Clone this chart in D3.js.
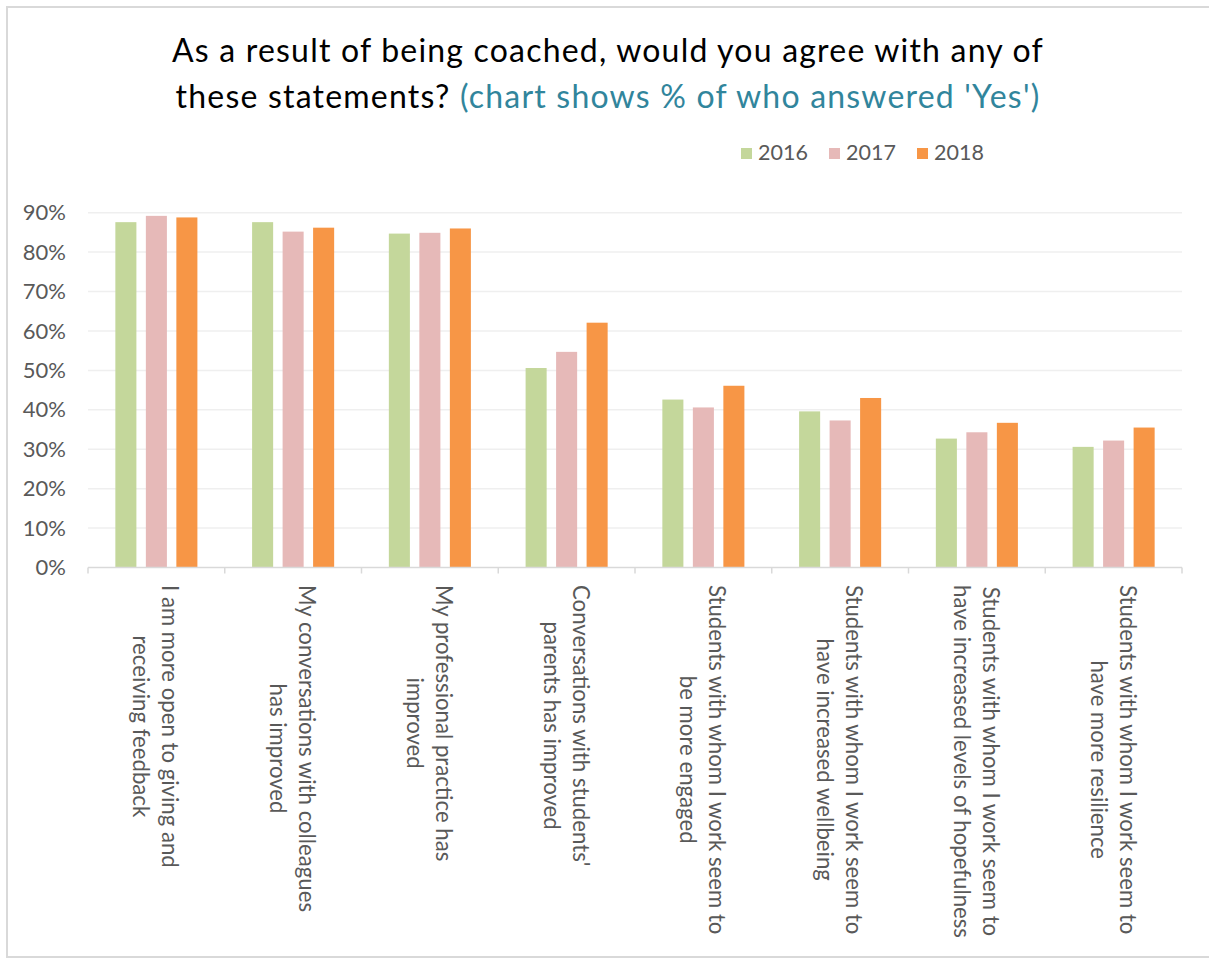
<!DOCTYPE html>
<html>
<head>
<meta charset="utf-8">
<script src="https://cdn.jsdelivr.net/npm/d3@7"></script>
<style>
  html, body { margin: 0; padding: 0; background: #ffffff; }
  svg { display: block; }
  text { font-family: Lato, "Open Sans", sans-serif; }
</style>
</head>
<body>
<svg id="chart" width="1209" height="961"></svg>
<script>
// Survey statements (line breaks mark where each label wraps)
const categories = [
  "I am more open to giving and\nreceiving feedback",
  "My conversations with colleagues\nhas improved",
  "My professional practice has\nimproved",
  "Conversations with students'\nparents has improved",
  "Students with whom I work seem to\nbe more engaged",
  "Students with whom I work seem to\nhave increased wellbeing",
  "Students with whom I work seem to\nhave increased levels of hopefulness",
  "Students with whom I work seem to\nhave more resilience"
];
const seriesNames = ["2016", "2017", "2018"];
const values2016 = [87.6, 87.6, 84.7, 50.6, 42.6, 39.6, 32.7, 30.6];
const values2017 = [89.2, 85.2, 84.9, 54.7, 40.6, 37.3, 34.3, 32.2];
const values2018 = [88.8, 86.2, 86.0, 62.1, 46.1, 43.0, 36.7, 35.5];
const yTicks = [0, 10, 20, 30, 40, 50, 60, 70, 80, 90];
const colors = ["#c4d79b", "#e6b9b8", "#f79646"];

const seriesValues = [values2016, values2017, values2018];
const rows = categories.map((c, i) => ({
  label: c,
  vals: seriesNames.map((s, j) => ({ series: s, value: seriesValues[j][i] }))
}));

const svg = d3.select("#chart");

// Chart frame
svg.append("rect")
  .attr("x", 7).attr("y", 7)
  .attr("width", 1220).attr("height", 950)
  .attr("fill", "#ffffff")
  .attr("stroke", "#d9d9d9").attr("stroke-width", 2);

const plot = { left: 88, right: 1182, top: 212.7, bottom: 567.5 };

const x0 = d3.scaleBand()
  .domain(categories)
  .range([plot.left, plot.right])
  .paddingInner(0.4)
  .paddingOuter(0.2);

const x1 = d3.scaleBand()
  .domain(seriesNames)
  .range([0, x0.bandwidth()])
  .paddingInner(0.31);

const y = d3.scaleLinear()
  .domain([0, 90])
  .range([plot.bottom, plot.top]);

// Horizontal gridlines
svg.append("g")
  .selectAll("line")
  .data(yTicks.filter(t => t > 0))
  .join("line")
  .attr("x1", plot.left).attr("x2", plot.right)
  .attr("y1", d => y(d)).attr("y2", d => y(d))
  .attr("stroke", "#efefef").attr("stroke-width", 1.5);

// Y axis labels
const yAxis = svg.append("g")
  .attr("transform", `translate(${plot.left},0)`)
  .call(d3.axisLeft(y).tickValues(yTicks).tickFormat(d => d + "%").tickSize(0).tickPadding(22));
yAxis.select(".domain").remove();
yAxis.selectAll("text")
  .attr("fill", "#595959")
  .style("font-size", "22px")
  .style("font-family", "Lato, sans-serif");

// Bars
const groups = svg.append("g")
  .selectAll("g")
  .data(rows)
  .join("g")
  .attr("transform", d => `translate(${x0(d.label)},0)`);

groups.selectAll("rect")
  .data(d => d.vals)
  .join("rect")
  .attr("x", d => x1(d.series))
  .attr("width", x1.bandwidth())
  .attr("y", d => y(d.value))
  .attr("height", d => y(0) - y(d.value))
  .attr("fill", (d, i) => colors[i]);

// Category axis: baseline and boundary ticks
const step = x0.step();
const xAxisG = svg.append("g");
xAxisG.append("line")
  .attr("x1", plot.left).attr("x2", plot.right)
  .attr("y1", y(0)).attr("y2", y(0))
  .attr("stroke", "#d9d9d9").attr("stroke-width", 1.5);
xAxisG.selectAll("line.tick")
  .data(d3.range(categories.length + 1))
  .join("line")
  .attr("class", "tick")
  .attr("x1", i => plot.left + i * step).attr("x2", i => plot.left + i * step)
  .attr("y1", y(0)).attr("y2", y(0) + 6)
  .attr("stroke", "#d9d9d9").attr("stroke-width", 1.5);

// Rotated, wrapped category labels, lines centred on each other
const labelTop = 585;
const lineGap = 29;
const labelG = svg.append("g")
  .selectAll("g")
  .data(categories)
  .join("g");
labelG.each(function (d) {
  const cx = x0(d) + x0.bandwidth() / 2;
  const lines = d.split("\n");
  const g = d3.select(this).attr("transform", `translate(${cx},${labelTop}) rotate(90)`);
  const texts = g.selectAll("text")
    .data(lines)
    .join("text")
    .attr("y", (l, i) => -6 + i * lineGap)
    .attr("text-anchor", "middle")
    .attr("fill", "#595959")
    .style("font-size", "22.2px")
    .text(l => l);
  let maxLen = 0;
  texts.each(function () { maxLen = Math.max(maxLen, this.getComputedTextLength()); });
  texts.attr("x", maxLen / 2);
});

// Title
const title = svg.append("text")
  .attr("text-anchor", "middle")
  .attr("fill", "#000000")
  .style("font-size", "32px")
  .style("letter-spacing", "1.2px");
title.append("tspan")
  .attr("x", 608).attr("y", 62)
  .text("As a result of being coached, would you agree with any of");
const t2 = title.append("tspan")
  .attr("x", 608).attr("y", 108);
t2.append("tspan").text("these statements? ");
t2.append("tspan").attr("fill", "#31859c").text("(chart shows % of who answered 'Yes')");

// Legend
const legendX = [741, 829, 917];
const legend = svg.append("g")
  .selectAll("g")
  .data(seriesNames)
  .join("g")
  .attr("transform", (d, i) => `translate(${legendX[i]},148)`);
legend.append("rect")
  .attr("width", 11).attr("height", 11)
  .attr("fill", (d, i) => colors[i]);
legend.append("text")
  .attr("x", 17).attr("y", 12)
  .attr("fill", "#595959")
  .style("font-size", "21.5px")
  .text(d => d);
</script>
</body>
</html>
